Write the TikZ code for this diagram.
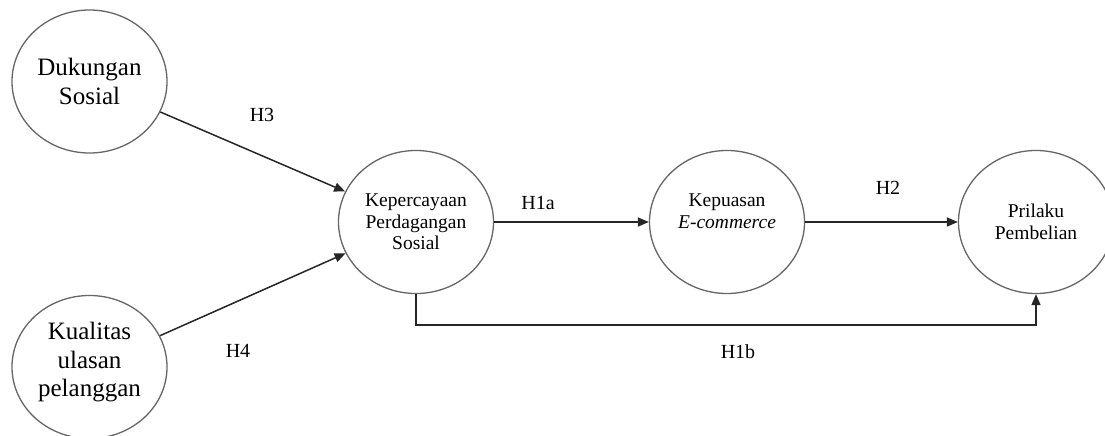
\documentclass[tikz,border=0pt]{standalone}
\usepackage{fontspec}
\setmainfont{Liberation Serif}
\usetikzlibrary{shapes.geometric,arrows.meta}

\def\bigtxt{\fontsize{25}{28.5}\selectfont}
\def\smtxt{\fontsize{19.5}{21.5}\selectfont}

\begin{document}
\begin{tikzpicture}[x=1pt,y=-1pt,
  every text node part/.style={align=center},
  var/.style={draw=black!60,line width=1.3pt,ellipse,minimum width=155pt,minimum height=143pt,inner sep=0pt},
  link/.style={draw=black!85,line width=1.5pt,-{Triangle[length=11pt,width=9pt]}},
  hyp/.style={font=\fontsize{20}{22}\selectfont}]
  \useasboundingbox (0,0) rectangle (1105,436);
  \node[var,font=\bigtxt] (ds) at (89.5,81.5) {Dukungan\\Sosial};
  \node[var,font=\bigtxt] (kul) at (89.5,367) {Kualitas\\ulasan\\pelanggan\\[-14pt]\mbox{}};
  \node[var,font=\smtxt] (kps) at (416,222) {Kepercayaan\\Perdagangan\\Sosial};
  \node[var,font=\smtxt] (kep) at (727,222) {Kepuasan\\\textit{E-commerce}\\\mbox{}};
  \node[var,font=\smtxt] (pb) at (1036,222) {Prilaku\\Pembelian};

  \draw[link] (ds) -- (kps);
  \draw[link] (kul) -- (kps);
  \draw[link] (kps) -- (kep);
  \draw[link] (kep) -- (pb);
  \draw[link] (kps.south) -- ++(0,31) -| (pb.south);

  \node[hyp] (h3) at (262,115) {H3};
  \node[hyp] (h4) at (238,351) {H4};
  \node[hyp] (h1a) at (538,203) {H1a};
  \node[hyp] (h2) at (888,188) {H2};
  \node[hyp] (h1b) at (738,352) {H1b};
\end{tikzpicture}
\end{document}
